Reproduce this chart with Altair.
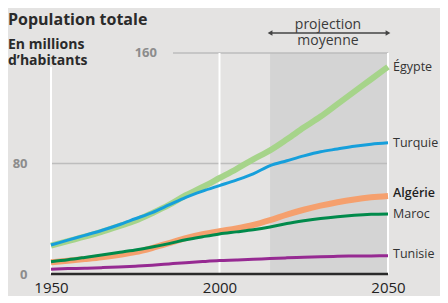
import altair as alt
import pandas as pd

years = [1950, 1955, 1960, 1965, 1970, 1975, 1980, 1985, 1990, 1995, 2000,
         2005, 2010, 2015, 2020, 2025, 2030, 2035, 2040, 2045, 2050]
egypte = [20.5, 23.8, 27, 30.5, 34.5, 38.5, 44, 50, 57, 63, 69.5,
          76, 83, 89.5, 97.5, 106, 114, 123, 132, 141, 150]
turquie = [21, 24.5, 28, 31.5, 35.5, 40, 44.5, 50, 55.5, 60, 64,
           68, 72.5, 78.5, 82, 85.5, 88.5, 90.5, 92.5, 94, 95]
algerie = [8.5, 9.6, 10.8, 12.1, 13.8, 15.8, 18.8, 22.3, 26, 28.8, 31,
           33, 35.5, 39, 43, 46.5, 49.5, 52, 54, 55.5, 56.5]
maroc = [8.9, 10.3, 12, 13.8, 15.5, 17.3, 19.5, 22, 24.8, 27, 29,
         30.5, 32, 34, 36.5, 38.5, 40.2, 41.5, 42.5, 43.2, 43.5]
tunisie = [3.5, 3.9, 4.2, 4.6, 5.1, 5.7, 6.4, 7.3, 8.2, 9, 9.7,
           10.1, 10.6, 11.2, 11.7, 12.1, 12.5, 12.8, 13, 13.1, 13.2]

series_names = ["Égypte", "Algérie", "Turquie", "Maroc", "Tunisie"]
series_values = [egypte, algerie, turquie, maroc, tunisie]
series_colors = ["#a6d48a", "#f5a06e", "#169fdb", "#008a4b", "#962a92"]
series_widths = [6, 6, 3, 3, 3]
label_dy = [0, -3, 0, 0, -2]
label_weight = ["normal", 600, "normal", "normal", "normal"]

proj_start, proj_end = 2015, 2050
y_ticks = [0, 80]
x_ticks = [1950, 2000, 2050]
vline_years = [1950, 2000, 2050]
vline_tops = [150, 160, 160]

BG = "#e4e3e2"

xs = alt.Scale(domain=[1950, 2050], nice=False, zero=False)
ys = alt.Scale(domain=[0, 160], nice=False)

x_axis = alt.Axis(values=x_ticks, format="d", title=None, domain=False, ticks=False,
                  grid=False, labelFontSize=15, labelColor="#222222", labelFlush=False,
                  labelFont="Open Sans", labelPadding=6)
y_axis = alt.Axis(values=y_ticks, title=None, domain=False, ticks=False, grid=False,
                  labelFontSize=13, labelFontWeight="bold", labelColor="#8c8c8c",
                  labelFont="Open Sans", labelPadding=24)

# projection shading
proj = alt.Chart(pd.DataFrame({"x": [proj_start], "x2": [proj_end], "y": [0], "y2": [160]})).mark_rect(
    color="#d4d4d4").encode(
    x=alt.X("x:Q", scale=xs, axis=x_axis), x2="x2", y=alt.Y("y:Q", scale=ys, axis=y_axis), y2="y2")

grid80 = alt.Chart(pd.DataFrame({"x": [1950], "x2": [2050], "y": [80]})).mark_rule(
    color="#bdbdbd", strokeWidth=1.5).encode(
    x=alt.X("x:Q", scale=xs), x2="x2", y=alt.Y("y:Q", scale=ys))
grid160 = alt.Chart(pd.DataFrame({"y": [160]})).mark_rule(
    color="#bdbdbd", strokeWidth=1.5).encode(
    x=alt.value(122), x2=alt.value(337), y=alt.Y("y:Q", scale=ys))

vlines = alt.Chart(pd.DataFrame({"x": vline_years, "top": vline_tops, "bot": [0, 0, 0]})).mark_rule(
    color="white", strokeWidth=2).encode(
    x=alt.X("x:Q", scale=xs), y=alt.Y("top:Q", scale=ys), y2="bot")

baseline = alt.Chart(pd.DataFrame({"x": [1950], "x2": [2050], "y": [0]})).mark_rule(
    color="#2a2a2a", strokeWidth=2.5).encode(
    x=alt.X("x:Q", scale=xs), x2="x2", y=alt.Y("y:Q", scale=ys))

layers = [proj, grid80, grid160, vlines, baseline]

for name, vals, col, w in zip(series_names, series_values, series_colors, series_widths):
    df = pd.DataFrame({"year": years, "value": vals})
    layers.append(alt.Chart(df).mark_line(color=col, strokeWidth=w, interpolate="monotone").encode(
        x=alt.X("year:Q", scale=xs), y=alt.Y("value:Q", scale=ys)))

for name, vals, dy, fw in zip(series_names, series_values, label_dy, label_weight):
    df = pd.DataFrame({"year": [2050], "value": [vals[-1]], "label": [name]})
    layers.append(alt.Chart(df).mark_text(
        align="left", baseline="middle", dx=5, dy=dy, fontSize=12.5, font="Open Sans",
        fontWeight=fw, color="#1e1e1e" if fw != "normal" else "#333333").encode(
        x=alt.X("year:Q", scale=xs), y=alt.Y("value:Q", scale=ys), text="label:N"))

# 160 label
layers.append(alt.Chart(pd.DataFrame({"y": [160], "t": ["160"]})).mark_text(
    align="right", baseline="middle", fontSize=13, fontWeight="bold", color="#8c8c8c",
    font="Open Sans").encode(x=alt.value(106), y=alt.Y("y:Q", scale=ys), text="t:N"))

# titles
titles = pd.DataFrame({"t": ["Population totale", "En millions", "d\u2019habitants"],
                       "y": [-28, -4, 12], "s": [16, 14, 14]})
for t, yy, s in zip(titles["t"], titles["y"], titles["s"]):
    layers.append(alt.Chart(pd.DataFrame({"t": [t]})).mark_text(
        align="left", baseline="alphabetic", fontSize=s, fontWeight="bold",
        color="#2a2a2a", font="Open Sans").encode(
        x=alt.value(-43), y=alt.value(yy), text="t:N"))

# projection annotation
for t, yy in [("projection", -24), ("moyenne", -8)]:
    layers.append(alt.Chart(pd.DataFrame({"t": [t]})).mark_text(
        align="center", baseline="alphabetic", fontSize=14, color="#3a3a3a",
        font="Open Sans").encode(x=alt.value(277), y=alt.value(yy), text="t:N"))

arrow = alt.Chart(pd.DataFrame({"x": [proj_start], "x2": [proj_end]})).mark_rule(
    color="#444444", strokeWidth=1.3).encode(
    x=alt.X("x:Q", scale=xs), x2="x2", y=alt.value(-20))
heads = alt.Chart(pd.DataFrame({"x": [proj_start, proj_end],
                                "shape": ["triangle-left", "triangle-right"]})).mark_point(
    filled=True, color="#444444", size=30, opacity=1).encode(
    x=alt.X("x:Q", scale=xs), y=alt.value(-20),
    shape=alt.Shape("shape:N", scale=None, legend=None))
layers += [arrow, heads]

chart = alt.layer(*layers).properties(
    width=337, height=221,
    autosize=alt.AutoSizeParams(type="none"),
    padding={"left": 43, "top": 45, "right": 52, "bottom": 22},
    background=BG,
).configure_view(stroke=None)

chart.save("out.html", embed_options={"renderer": "svg", "actions": False})
